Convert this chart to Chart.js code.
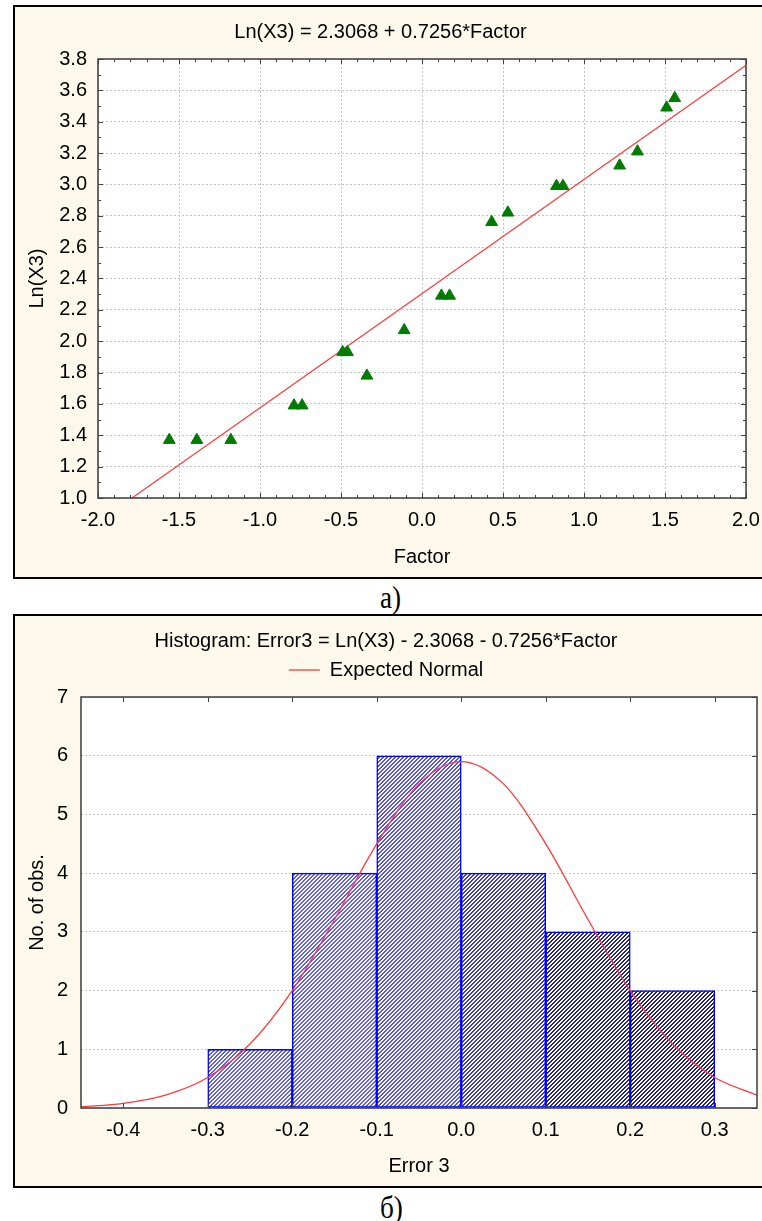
<!DOCTYPE html>
<html>
<head>
<meta charset="utf-8">
<script src="https://cdn.jsdelivr.net/npm/chart.js@4.4.0/dist/chart.umd.min.js"></script>
<style>
  html, body { margin: 0; padding: 0; background: #fff; }
  body { width: 762px; height: 1221px; position: relative; overflow: hidden; }
  .box { position: absolute; left: 13px; width: 800px; height: 574px; box-sizing: border-box; border: 2px solid #000; background: #fdf8ec; }
  #box1 { top: 5px; }
  #box2 { top: 614px; }
  canvas.plot { position: absolute; left: 15px; }
  #chart1 { top: 7px; }
  #chart2 { top: 616px; }
  .caption { position: absolute; left: 380px; font-family: 'Liberation Serif', 'Times New Roman', serif; font-size: 32px; line-height: 32px; transform: scaleX(0.85); transform-origin: left top; }
</style>
</head>
<body>
<div class="box" id="box1"></div>
<div class="box" id="box2"></div>
<canvas class="plot" id="chart1" width="747" height="570"></canvas>
<canvas class="plot" id="chart2" width="747" height="570"></canvas>
<div class="caption" style="top:581px">а)</div>
<div class="caption" style="top:1191px">б)</div>
<script>
// chart а): Ln(X3) against Factor
const factor = [-1.56, -1.39, -1.18, -0.79, -0.74, -0.49, -0.46, -0.34, -0.11, 0.12, 0.17, 0.43, 0.53, 0.83, 0.87, 1.22, 1.33, 1.51, 1.56];
const lnX3 = [1.37, 1.37, 1.37, 1.59, 1.59, 1.93, 1.93, 1.78, 2.07, 2.29, 2.29, 2.76, 2.82, 2.99, 2.99, 3.12, 3.21, 3.49, 3.55];
const fitX = [-1.79, 2.0];
const fitY = [1.0, 3.76];
const factorTicks = [-2.0, -1.5, -1.0, -0.5, 0.0, 0.5, 1.0, 1.5, 2.0];
const lnTicks = [1.0, 1.2, 1.4, 1.6, 1.8, 2.0, 2.2, 2.4, 2.6, 2.8, 3.0, 3.2, 3.4, 3.6, 3.8];

// chart б): histogram of residuals
const binLo = [-0.3, -0.2, -0.1, 0.0, 0.1, 0.2];
const binHi = [-0.2, -0.1, 0.0, 0.1, 0.2, 0.3];
const binCount = [1, 4, 6, 4, 3, 2];
const normX = [-0.45, -0.40, -0.35, -0.30, -0.25, -0.20, -0.15, -0.10, -0.05, 0.00, 0.05, 0.10, 0.15, 0.20, 0.25, 0.30, 0.35];
const normY = [0.02, 0.08, 0.22, 0.52, 1.09, 2.00, 3.21, 4.50, 5.52, 5.90, 5.52, 4.50, 3.21, 2.00, 1.09, 0.52, 0.22];
const errTicks = [-0.4, -0.3, -0.2, -0.1, 0.0, 0.1, 0.2, 0.3];
const obsTicks = [0, 1, 2, 3, 4, 5, 6, 7];

Chart.defaults.font.family = "'Liberation Sans', Arial, sans-serif";
Chart.defaults.font.size = 20;
Chart.defaults.color = '#000';

// white plot area, frame and inward tick marks
const framePlugin = {
  id: 'frame',
  beforeDraw(chart) {
    const a = chart.chartArea, ctx = chart.ctx;
    ctx.save();
    ctx.fillStyle = '#fff';
    ctx.fillRect(a.left, a.top, a.width, a.height);
    ctx.restore();
  },
  afterDatasetsDraw(chart, args, opts) {
    const ctx = chart.ctx, a = chart.chartArea;
    const xs = chart.scales.x, ys = chart.scales.y;
    ctx.save();
    ctx.strokeStyle = '#444';
    ctx.lineWidth = 1;
    const marks = (scale, step, major, sides) => {
      const start = Math.ceil(scale.min / step - 1e-6);
      const end = Math.floor(scale.max / step + 1e-6);
      for (let i = start; i <= end; i++) {
        const v = i * step;
        const isMajor = Math.abs(v / major - Math.round(v / major)) < 1e-6;
        const len = isMajor ? 5 : 3;
        const p = Math.round(scale.getPixelForValue(v)) + 0.5;
        ctx.beginPath();
        sides.forEach(s => {
          if (s === 'top') { ctx.moveTo(p, a.top); ctx.lineTo(p, a.top + len); }
          if (s === 'bottom') { ctx.moveTo(p, a.bottom); ctx.lineTo(p, a.bottom - len); }
          if (s === 'left') { ctx.moveTo(a.left, p); ctx.lineTo(a.left + len, p); }
          if (s === 'right') { ctx.moveTo(a.right, p); ctx.lineTo(a.right - len, p); }
        });
        ctx.stroke();
      }
    };
    marks(xs, opts.xStep, opts.xMajor, opts.xSides);
    marks(ys, opts.yStep, opts.yMajor, opts.ySides);
    ctx.strokeStyle = '#3c3c3c';
    ctx.lineWidth = 1.5;
    ctx.strokeRect(Math.round(a.left), Math.round(a.top), Math.round(a.width), Math.round(a.height));
    ctx.restore();
  }
};

function hatch(color) {
  const c = document.createElement('canvas');
  c.width = 4; c.height = 4;
  const g = c.getContext('2d');
  g.fillStyle = '#fff';
  g.fillRect(0, 0, 4, 4);
  g.fillStyle = color;
  for (let x = 0; x < 4; x++) {
    for (let y = 0; y < 4; y++) {
      if ((x + y) % 4 < 2) g.fillRect(x, y, 1, 1);
    }
  }
  return g.createPattern(c, 'repeat');
}

const gridStyle = { color: '#c4c4c4', lineWidth: 1, drawTicks: false };

new Chart(document.getElementById('chart1'), {
  type: 'scatter',
  data: {
    datasets: [
      {
        label: 'Ln(X3)',
        data: factor.map((f, i) => ({ x: f, y: lnX3[i] })),
        pointStyle: 'triangle',
        pointRadius: 6.8,
        backgroundColor: '#007a00',
        borderColor: '#007a00',
        borderWidth: 1
      },
      {
        label: 'fit',
        data: fitX.map((f, i) => ({ x: f, y: fitY[i] })),
        showLine: true,
        pointRadius: 0,
        borderColor: '#ff3838',
        borderWidth: 1.2
      }
    ]
  },
  options: {
    responsive: false,
    animation: false,
    layout: { padding: { left: 0, right: 16, top: 0, bottom: 0 } },
    plugins: {
      legend: { display: false },
      tooltip: { enabled: false },
      title: {
        display: true,
        text: 'Ln(X3) = 2.3068 + 0.7256*Factor',
        color: '#000',
        font: { size: 20, weight: 'normal' },
        padding: { top: 13, bottom: 15 }
      },
      frame: { xStep: 0.1, xMajor: 0.5, xSides: ['top', 'bottom'], yStep: 0.1, yMajor: 0.2, ySides: ['left', 'right'] }
    },
    scales: {
      x: {
        type: 'linear', min: -2, max: 2,
        afterBuildTicks: s => { s.ticks = factorTicks.map(v => ({ value: v })); },
        afterFit: s => { s.height = 79; s.paddingLeft = 0; s.paddingRight = 0; },
        ticks: { padding: 10, autoSkip: false, maxRotation: 0, callback: v => v.toFixed(1) },
        grid: gridStyle,
        border: { display: false, dash: [2, 2] },
        title: { display: true, text: 'Factor', padding: { top: 0, bottom: 8 } }
      },
      y: {
        type: 'linear', min: 1.0, max: 3.8,
        afterBuildTicks: s => { s.ticks = lnTicks.map(v => ({ value: v })); },
        afterFit: s => { s.width = 83; s.paddingTop = 0; s.paddingBottom = 0; },
        ticks: { padding: 11, autoSkip: false, callback: v => v.toFixed(1) },
        grid: gridStyle,
        border: { display: false, dash: [2, 2] },
        title: { display: true, text: 'Ln(X3)', padding: { top: 10, bottom: 0 } }
      }
    }
  },
  plugins: [framePlugin]
});

// hatch line colour per bar, light blue on the left to navy on the right
const barLines = ['#5c5cff', '#5c5cff', '#5252f4', '#3a3acc', '#26267a', '#222270'];

new Chart(document.getElementById('chart2'), {
  type: 'bar',
  data: {
    datasets: [
      {
        label: 'No. of obs.',
        data: binCount.map((c, i) => ({ x: (binLo[i] + binHi[i]) / 2, y: c })),
        backgroundColor: barLines.map(hatch),
        borderColor: '#0000ff',
        borderWidth: 1.5,
        borderSkipped: false,
        barPercentage: 1,
        categoryPercentage: 1,
        order: 1
      },
      {
        type: 'line',
        label: 'Expected Normal',
        data: normX.map((x, i) => ({ x: x, y: normY[i] })),
        borderColor: '#ff3838',
        borderWidth: 1.3,
        pointRadius: 0,
        cubicInterpolationMode: 'monotone',
        fill: false,
        order: 0
      }
    ]
  },
  options: {
    responsive: false,
    animation: false,
    layout: { padding: { left: 0, right: 5, top: 0, bottom: 0 } },
    plugins: {
      tooltip: { enabled: false },
      title: {
        display: true,
        text: 'Histogram: Error3 = Ln(X3) - 2.3068 - 0.7256*Factor',
        color: '#000',
        font: { size: 20, weight: 'normal' },
        padding: { top: 13, bottom: 0 }
      },
      legend: {
        display: true,
        labels: {
          filter: item => item.datasetIndex === 1,
          usePointStyle: true,
          pointStyle: 'line',
          pointStyleWidth: 31,
          padding: 7,
          color: '#000',
          font: { size: 20 }
        }
      },
      frame: { xStep: 0.1, xMajor: 0.1, xSides: ['top', 'bottom'], yStep: 1, yMajor: 1, ySides: ['right'] }
    },
    scales: {
      x: {
        type: 'linear', min: -0.45, max: 0.35, offset: false,
        afterBuildTicks: s => { s.ticks = errTicks.map(v => ({ value: v })); },
        afterFit: s => { s.height = 78; s.paddingLeft = 0; s.paddingRight = 0; },
        ticks: { padding: 10, autoSkip: false, maxRotation: 0, callback: v => v.toFixed(1) },
        grid: { display: false, offset: false, drawTicks: false },
        border: { display: false },
        title: { display: true, text: 'Error 3', padding: { top: 0, bottom: 8 } }
      },
      xTop: {
        type: 'linear', axis: 'x', position: 'top', offset: false,
        ticks: { display: false },
        grid: { display: false, drawTicks: false },
        border: { display: false },
        afterFit: s => { s.height = 7; s.paddingLeft = 0; s.paddingRight = 0; }
      },
      y: {
        type: 'linear', min: 0, max: 7,
        afterBuildTicks: s => { s.ticks = obsTicks.map(v => ({ value: v })); },
        afterFit: s => { s.width = 66; s.paddingTop = 0; s.paddingBottom = 0; },
        ticks: { padding: 13, autoSkip: false },
        grid: gridStyle,
        border: { display: false, dash: [2, 2] },
        title: { display: true, text: 'No. of obs.', padding: { top: 10, bottom: 0 } }
      }
    }
  },
  plugins: [framePlugin]
});
</script>
</body>
</html>
